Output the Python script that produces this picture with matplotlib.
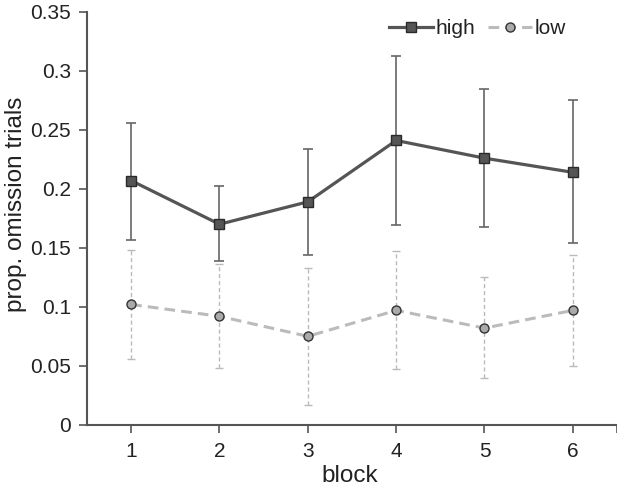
import matplotlib
matplotlib.use("Agg")
import matplotlib.pyplot as plt

plt.rcParams['font.family'] = ['Liberation Sans', 'DejaVu Sans']

# data
blocks = [1, 2, 3, 4, 5, 6]
high = [0.207, 0.170, 0.189, 0.241, 0.226, 0.214]
high_lo = [0.157, 0.139, 0.144, 0.169, 0.168, 0.154]
high_hi = [0.256, 0.202, 0.234, 0.313, 0.285, 0.275]
low = [0.102, 0.092, 0.075, 0.097, 0.082, 0.097]
low_lo = [0.056, 0.048, 0.017, 0.047, 0.040, 0.050]
low_hi = [0.148, 0.136, 0.133, 0.147, 0.125, 0.144]
yticks = [0, 0.05, 0.1, 0.15, 0.2, 0.25, 0.3, 0.35]
ytick_labels = ['0', '0.05', '0.1', '0.15', '0.2', '0.25', '0.3', '0.35']

fig = plt.figure(figsize=(6.17, 4.94), dpi=100)
ax = fig.add_axes([0.141, 0.140, 0.859, 0.836])

# error bars as (below, above) distances
high_err = [[h - l for h, l in zip(high, high_lo)], [u - h for h, u in zip(high, high_hi)]]
low_err = [[h - l for h, l in zip(low, low_lo)], [u - h for h, u in zip(low, low_hi)]]

eb = ax.errorbar(blocks, low, yerr=low_err, fmt='none', ecolor='#bbbbbb',
                 elinewidth=1.0, capsize=3, capthick=1.0, zorder=1)
eb[2][0].set_linestyle((0, (3, 2)))
ax.errorbar(blocks, high, yerr=high_err, fmt='none', ecolor='#666666',
            elinewidth=1.2, capsize=3.5, capthick=1.2, zorder=2)

ax.plot(blocks, low, color='#bbbbbb', linestyle=(0, (3.5, 2)), linewidth=2.2,
        marker='o', markersize=6.5, markerfacecolor='#aaaaaa',
        markeredgecolor='#333333', markeredgewidth=1.0, label='low', zorder=3)
ax.plot(blocks, high, color='#555555', linewidth=2.3,
        marker='s', markersize=7.5, markerfacecolor='#555555',
        markeredgecolor='#2a2a2a', markeredgewidth=1.0, label='high', zorder=4)

ax.set_xlim(0.5, 6.5)
ax.set_ylim(0, 0.35)
ax.set_xticks(blocks + [6.5])
ax.set_xticklabels([str(b) for b in blocks] + [''])
ax.set_yticks(yticks)
ax.set_yticklabels(ytick_labels)

for s in ['top', 'right']:
    ax.spines[s].set_visible(False)
for s in ['left', 'bottom']:
    ax.spines[s].set_color('#555555')
    ax.spines[s].set_linewidth(1.5)
ax.tick_params(direction='out', length=6, width=1.2, color='#555555',
               labelsize=15, labelcolor='#222222')
ax.tick_params(axis='x', pad=6)
ax.tick_params(axis='y', pad=5.5)

ax.set_xlabel('block', fontsize=17.5, color='#222222')
ax.set_ylabel('prop. omission trials', fontsize=17.5, color='#222222')
ax.xaxis.set_label_coords(0.496, -0.097)
ax.yaxis.set_label_coords(-0.113, 0.533)

handles, labels = ax.get_legend_handles_labels()
ax.legend(handles[::-1], labels[::-1], loc='upper right', ncol=2, frameon=False,
          fontsize=15, handlelength=2.1, handletextpad=0.15, columnspacing=0.6,
          bbox_to_anchor=(0.94, 1.028), labelcolor='#222222')

fig.savefig('out.png', dpi=100)
